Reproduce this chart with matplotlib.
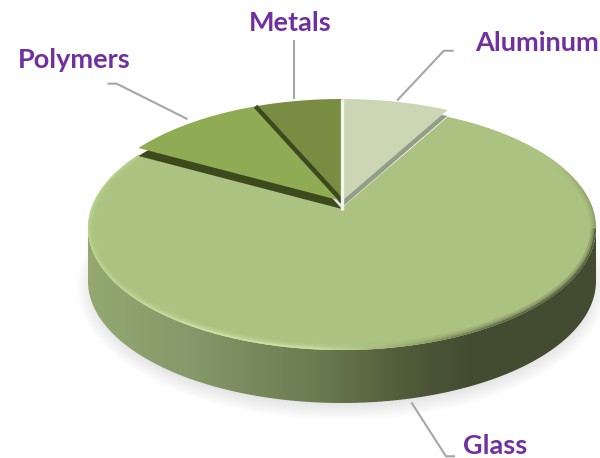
'''Exploded 3D pie of packaging materials, glass is the big slice.'''

import numpy as np
import matplotlib
matplotlib.use('Agg')
import matplotlib.pyplot as plt
from matplotlib.collections import LineCollection
from matplotlib.colors import LinearSegmentedColormap, to_rgb
from matplotlib.patches import Ellipse, Polygon

# Data, clockwise from 12 o'clock
materials = ['Aluminum', 'Glass', 'Polymers', 'Metals']
shares = [8, 75, 10.5, 6.5]
colors = ['#ccd6b5', '#abc281', '#8fac55', '#788c42']
side_colors = ['#929e85', '#434c30', '#3d4a1e', '#3d4a1e']

# Geometry of the tilted disc, in pixels
cx, cy = 342, 228
rx, ry = 254, 122
thick = 53
tilt = .164  # moves the apex above the middle of the ellipse
lift = 7  # small slices sit a bit higher than the glass one


def edge(theta, dy=0):
    '''Rim point for an angle in radians, clockwise from the top.'''
    theta = np.asarray(theta)
    den = 1 + tilt*np.cos(theta)
    x = np.sin(theta)*np.sqrt(1 - tilt**2)/den
    y = (np.cos(theta) + tilt)/den
    return cx + rx*x, cy - ry*y + dy


def wedge(start, stop, dy=0):
    tt = np.linspace(start, stop, 120)
    x, y = edge(tt, dy)
    apex = (cx, cy - ry*tilt + dy)
    return np.vstack([apex, np.column_stack([x, y])])


fig = plt.figure(figsize=(6, 4.58), dpi=100)
ax = fig.add_axes([0, 0, 1, 1])

# Soft shadow under the disc
for ii in range(10):
    ax.add_patch(Ellipse(
        (cx, cy + thick + 6), 2*(rx + 11 - ii*2), 2*(ry + 11 - ii*2),
        fc='#808080', ec='none', alpha=.025, zorder=1))

# Side wall with horizontal shading
side_cmap = LinearSegmentedColormap.from_list('side', [
    (0, '#93a971'), (.2, '#85996a'), (.45, '#6b7c50'),
    (.62, '#515c3a'), (.75, '#434c30'), (1, '#434c30')])
phi = np.linspace(np.pi, 2*np.pi, 200)
xs, ys = cx + rx*np.cos(phi), cy - ry*np.sin(phi)
wall = Polygon(np.vstack([
    np.column_stack([xs, ys]),
    np.column_stack([xs[::-1], ys[::-1] + thick])]),
    fc='none', ec='none', transform=ax.transData)
ax.add_patch(wall)
img = ax.imshow(
    np.linspace(0, 1, 256).reshape(1, -1), cmap=side_cmap, aspect='auto',
    extent=(cx - rx, cx + rx, cy + ry + thick, cy), zorder=2)
img.set_clip_path(wall)

# Angles of the slices
edges = np.deg2rad(np.cumsum([0] + shares)*3.6)
mids = (edges[:-1] + edges[1:])/2

# Glass first, then the lifted slices with their thin dark sides
glass = Polygon(wedge(edges[1], edges[2]), fc=colors[1], ec='none', zorder=3)
ax.add_patch(glass)

# Bevel along the glass rim, clipped so it stays on the top face
tt = np.linspace(edges[1], edges[2], 500)
rim_x, rim_y = edge(tt)
pts = np.column_stack([rim_x, rim_y])
segs = np.stack([pts[:-1], pts[1:]], axis=1)
u = (rim_x[:-1] - cx)/rx
lower = rim_y[:-1] > cy
stops_low = np.array([to_rgb(c) for c in [
    '#bcd68e', '#cfe6a6', '#cde4a3', '#8fa268', '#566240', '#465035']])
u_low = [-1, -.55, -.1, .3, .62, 1]
stops_up = np.array([to_rgb(c) for c in [
    '#bcd68e', '#b8d28a', '#abc281', '#abc281', '#8a9c68']])
u_up = [-1, -.8, -.5, .85, 1]
rim_col = np.zeros((len(u), 3))
for jj in range(3):
    rim_col[:, jj] = np.where(
        lower, np.interp(u, u_low, stops_low[:, jj]),
        np.interp(u, u_up, stops_up[:, jj]))
for lw, alpha in [(8, .2), (5, .3), (2.5, .8)]:
    bevel = LineCollection(segs, colors=rim_col, linewidths=lw, alpha=alpha,
                           zorder=4, capstyle='butt')
    ax.add_collection(bevel)
    bevel.set_clip_path(glass)

side_dy = [6, 0, 8, 4]
for ii in [0, 2, 3]:
    ax.add_patch(Polygon(
        wedge(edges[ii], edges[ii + 1], dy=-lift + side_dy[ii]),
        fc=side_colors[ii], ec='none', zorder=5))
    ax.add_patch(Polygon(wedge(edges[ii], edges[ii + 1], dy=-lift),
                         fc=colors[ii], ec='none', zorder=6))

# Divider between polymers and metals
ax.plot(*wedge(edges[3], edges[3] + .001, dy=-lift)[:2].T,
        color=side_colors[3], lw=3.2, zorder=7, solid_capstyle='butt')
# White gap at 12 o'clock
top_x, top_y = edge(0., -lift)
ax.plot([top_x, top_x], [top_y, cy - ry*tilt + 2], color='#f4f6ee', lw=2.4,
        zorder=8, solid_capstyle='butt')

# Labels and leader lines, pixel offsets from each slice's rim
label_x = [475, 463, 18, 249]
label_y = [43, 446, 60, 23]
start_dx = [2, -13, -5, -4]
start_dy = [-9, thick + 7, -11, -10]
bend_dx = [46, 34, -70, 0]
bend_dy = [-49, 53, -35, -57]
tail_dx = [9, 8, -8, 0]
for ii, name in enumerate(materials):
    x0, y0 = edge(mids[ii], start_dy[ii])
    x0 = x0 + start_dx[ii]
    x1, y1 = x0 + bend_dx[ii], y0 + bend_dy[ii]
    ax.plot([x0, x1, x1 + tail_dx[ii]], [y0, y1, y1], color='#a6a6a6',
            lw=1.5, zorder=9)
    ax.text(label_x[ii], label_y[ii], name, color='#7030a0', fontsize=19.5,
            family='Lato', fontweight='bold', ha='left', va='center',
            zorder=10)

ax.set_xlim(0, 600)
ax.set_ylim(458, 0)
ax.axis('off')
fig.savefig('out.png', dpi=100)
